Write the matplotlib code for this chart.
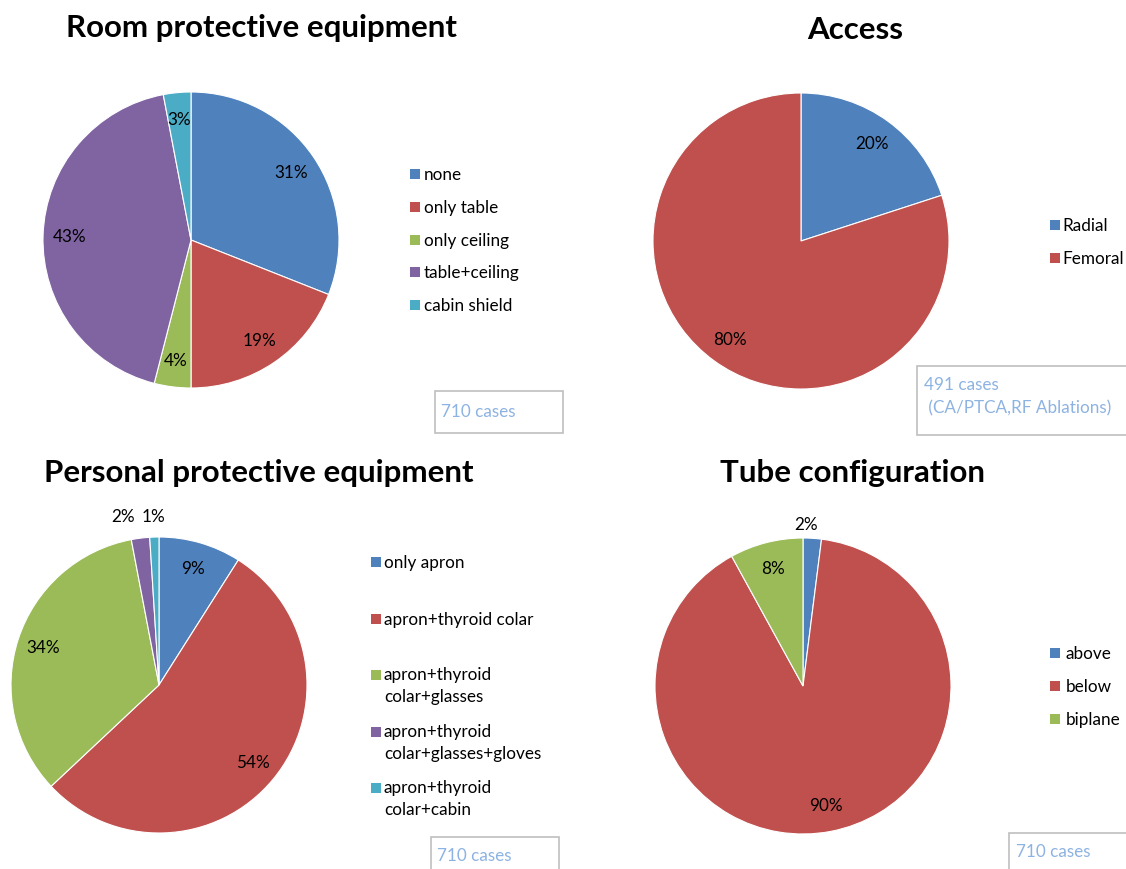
import numpy as np
import matplotlib
matplotlib.use("Agg")
import matplotlib.pyplot as plt
from matplotlib.patches import Rectangle

plt.rcParams['font.family'] = ['Lato', 'DejaVu Sans']

W, H = 1126, 870

# ---- data ----
room_labels = ["none", "only table", "only ceiling", "table+ceiling", "cabin shield"]
room_values = [31, 19, 4, 43, 3]

access_labels = ["Radial", "Femoral"]
access_values = [20, 80]

ppe_labels = ["only apron", "apron+thyroid colar", "apron+thyroid\ncolar+glasses",
              "apron+thyroid\ncolar+glasses+gloves", "apron+thyroid\ncolar+cabin"]
ppe_values = [9, 54, 34, 2, 1]

tube_labels = ["above", "below", "biplane"]
tube_values = [2, 90, 8]

titles = ["Room protective equipment", "Access",
          "Personal protective equipment", "Tube configuration"]
case_notes = ["710 cases", "491 cases\n (CA/PTCA,RF Ablations)", "710 cases", "710 cases"]

colors = ["#4F81BD", "#C0504D", "#9BBB59", "#8064A2", "#4BACC6"]
note_color = "#8DB3E2"
box_color = "#BFBFBF"

FS = 12.3
TITLE_FS = 22.5

fig = plt.figure(figsize=(W / 100, H / 100), dpi=100)
fig.patch.set_facecolor("white")


def fx(x):
    return x / W


def fy(y):
    return 1 - y / H


def draw_pie(values, cx, cy, R, label_dist=0.82, outside=None):
    ax = fig.add_axes([fx(cx - R), fy(cy + R), 2 * R / W, 2 * R / H])
    wedges, _ = ax.pie(values, colors=colors[:len(values)], startangle=90,
                       counterclock=False, radius=1.0,
                       wedgeprops=dict(edgecolor="white", linewidth=0.8))
    ax.set_xlim(-1, 1)
    ax.set_ylim(-1, 1)
    ax.set_aspect("equal")
    ax.axis("off")
    outside = outside or {}
    for i, (w, v) in enumerate(zip(wedges, values)):
        ang = np.deg2rad((w.theta1 + w.theta2) / 2)
        d, dx = outside.get(i, (label_dist, 0.0))
        ax.text(d * np.cos(ang) + dx, d * np.sin(ang), f"{v}%",
                ha="center", va="center", fontsize=FS, color="black",
                clip_on=False)
    return wedges


def draw_legend(labels, x, ys, text_x):
    for lab, y, c in zip(labels, ys, colors):
        fig.patches.append(Rectangle((fx(x), fy(y + 5)), 10 / W, 10 / H,
                                     transform=fig.transFigure,
                                     facecolor=c, edgecolor="none"))
        if "\n" in lab:
            fig.text(fx(text_x), fy(y - 9), lab, ha="left", va="top",
                     fontsize=FS, linespacing=1.45)
        else:
            fig.text(fx(text_x), fy(y), lab, ha="left", va="center", fontsize=FS)


def draw_note(text, x0, y0, x1, y1, tx, ty):
    fig.patches.append(Rectangle((fx(x0), fy(y1)), (x1 - x0) / W, (y1 - y0) / H,
                                 transform=fig.transFigure, facecolor="white",
                                 edgecolor=box_color, linewidth=1.2))
    fig.text(fx(tx), fy(ty), text, ha="left", va="top", fontsize=FS,
             color=note_color, linespacing=1.55)


# titles
fig.text(fx(261), fy(28), titles[0], ha="center", va="center", fontsize=TITLE_FS, fontweight="bold")
fig.text(fx(855), fy(30), titles[1], ha="center", va="center", fontsize=TITLE_FS, fontweight="bold")
fig.text(fx(259), fy(473), titles[2], ha="center", va="center", fontsize=TITLE_FS, fontweight="bold")
fig.text(fx(853), fy(473), titles[3], ha="center", va="center", fontsize=TITLE_FS, fontweight="bold")

# pies
draw_pie(room_values, 191, 241, 148)
draw_pie(access_values, 801, 242, 148)
draw_pie(ppe_values, 159, 686, 148, outside={3: (1.15, -0.1), 4: (1.14, 0.0)})
draw_pie(tube_values, 803, 687, 148, outside={0: (1.1, -0.05)})

# legends
draw_legend(room_labels, 410, [175, 208, 241, 273, 306], 424)
draw_legend(access_labels, 1050, [226, 259], 1062)
draw_legend(ppe_labels, 371, [563, 620, 676, 733, 789], 384)
draw_legend(tube_labels, 1050, [654, 687, 720], 1066)

# case notes
draw_note(case_notes[0], 435, 392, 563, 434, 441, 404)
draw_note(case_notes[1], 917, 367, 1130, 436, 924, 377)
draw_note(case_notes[2], 431, 838, 559, 880, 437, 848)
draw_note(case_notes[3], 1009, 834, 1130, 880, 1016, 844)

fig.savefig("out.png", dpi=100, facecolor="white")
